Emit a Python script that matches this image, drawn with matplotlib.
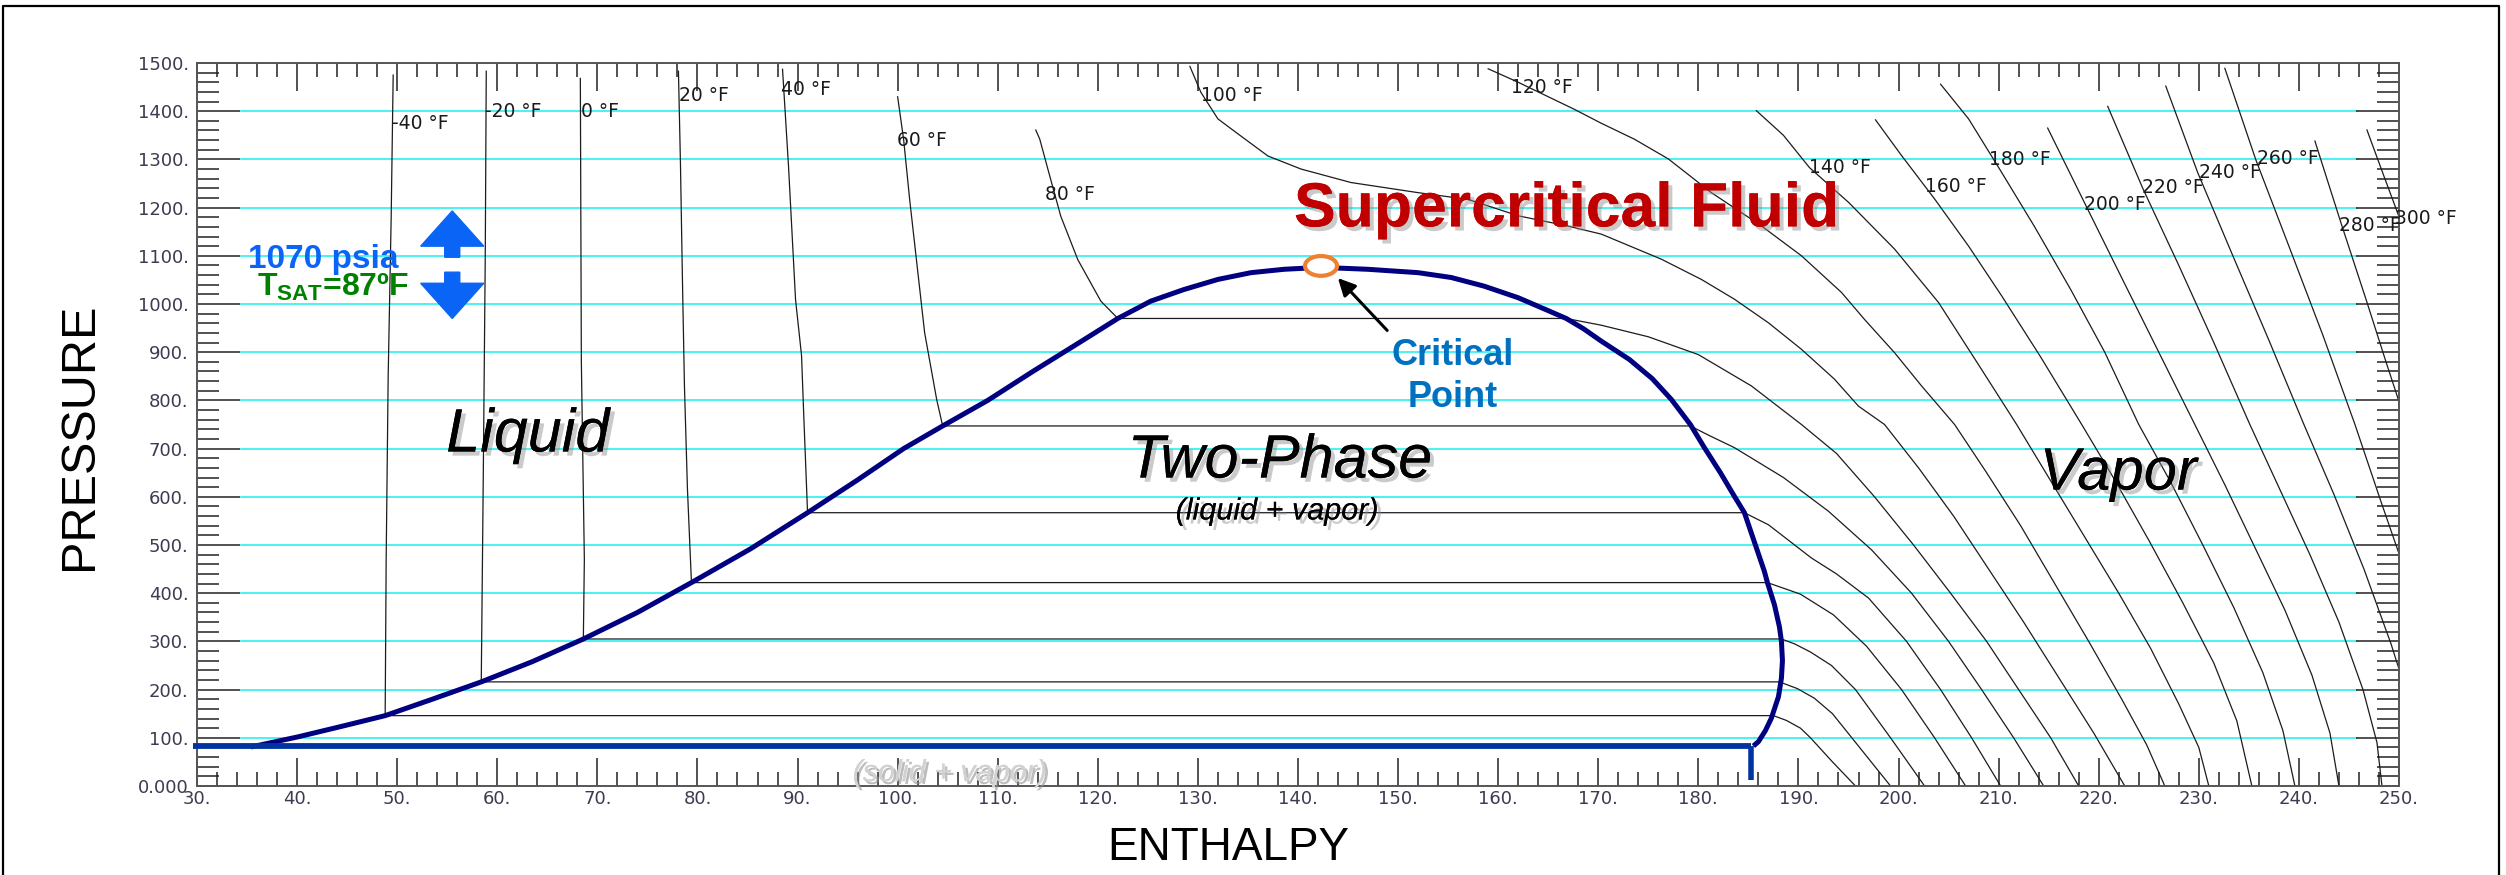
import matplotlib
matplotlib.use("Agg")
import matplotlib.pyplot as plt
import matplotlib.patheffects as pe
from matplotlib.patches import Ellipse, Polygon
from matplotlib.ticker import MultipleLocator, FuncFormatter

plt.rcParams["font.family"] = ["Liberation Sans", "DejaVu Sans"]
plt.rcParams["mathtext.fontset"] = "custom"
plt.rcParams["mathtext.rm"] = "Liberation Sans"
plt.rcParams["mathtext.bf"] = "Liberation Sans:bold"

# saturation dome, (enthalpy Btu/lb, pressure psia)
DOME = [(35.4, 81), (40.1, 102), (44.5, 124), (48.8, 146), (53.5, 180), (58.4, 216),
        (63.5, 258), (68.6, 305), (74.0, 360), (79.4, 422), (85.3, 492), (91.0, 567),
        (96.0, 635), (100.6, 700), (104.5, 747), (109.0, 800), (113.5, 860), (118.0, 918),
        (122.0, 970), (125.3, 1006), (128.6, 1030), (132.0, 1051), (135.3, 1065),
        (138.6, 1072), (142.3, 1076), (147.0, 1072), (152.0, 1065), (155.3, 1055),
        (158.6, 1037), (162.0, 1013), (164.8, 988), (166.8, 970), (168.5, 949),
        (170.3, 923), (173.1, 885), (175.4, 845), (177.3, 802), (179.2, 750), (180.6, 702),
        (182.2, 650), (183.6, 601), (184.6, 567), (185.7, 500), (186.6, 445), (186.9, 422),
        (187.6, 376), (188.1, 330), (188.3, 300), (188.4, 260), (188.3, 224), (188.0, 185),
        (187.6, 160), (187.3, 141), (186.7, 115), (186.0, 92), (185.5, 83)]

TRIPLE_P = 83
TRIPLE_H = [29.6, 185.3]
TRIPLE_DROP_P = 12.5
CRIT_H, CRIT_P = 142.3, 1079

# isotherms (h, P); subcritical ones run liquid -> tie line -> vapor
ISO_M40 = [(49.6, 1475), (49.4, 1180), (49.1, 850), (48.9, 470), (48.8, 146), (187.5, 146),
           (188.8, 136), (190.2, 120), (191.2, 100), (193.4, 50), (195.7, 0)]
ISO_M20 = [(58.9, 1483), (58.8, 1100), (58.6, 640), (58.4, 216), (188.1, 216), (189.9, 202),
           (191.6, 182), (193.4, 150), (196.3, 75), (199.2, 0)]
ISO_0 = [(68.3, 1468), (68.4, 880), (68.7, 470), (68.6, 305), (188.3, 305), (189.6, 295),
         (191.2, 278), (193.3, 250), (195.7, 200), (199.2, 100), (202.6, 0)]
ISO_20 = [(78.1, 1483), (78.3, 1293), (78.5, 1050), (78.7, 830), (79.0, 616), (79.4, 422),
          (186.9, 422), (190.2, 398), (193.5, 355), (196.8, 290), (200.3, 200), (203.6, 100),
          (206.7, 0)]
ISO_40 = [(88.5, 1487), (89.1, 1285), (89.8, 1009), (90.4, 893), (90.6, 780), (91.0, 567),
          (184.6, 567), (187.0, 542), (191.3, 473), (193.8, 440), (197.0, 390), (200.8, 300),
          (204.2, 200), (207.3, 100), (210.2, 0)]
ISO_60 = [(100.0, 1430), (100.6, 1341), (101.2, 1217), (102.7, 940), (103.9, 802), (104.5, 747),
          (179.2, 747), (181.0, 728), (183.6, 702), (188.5, 640), (193.0, 570), (197.3, 490),
          (201.3, 400), (205.0, 300), (208.3, 200), (211.5, 100), (214.5, 0)]
ISO_80 = [(113.8, 1361), (114.2, 1342), (115.1, 1273), (116.3, 1182), (118.0, 1092), (120.3, 1006),
          (122.0, 970), (166.8, 970), (170.3, 956), (175.0, 932), (180.0, 895), (185.3, 830),
          (190.3, 750), (193.8, 690), (197.6, 600), (201.5, 500), (205.2, 400), (208.8, 300),
          (212.0, 200), (215.2, 100), (218.0, 0)]
ISO_100 = [(129.2, 1493), (130.3, 1439), (132.0, 1384), (134.0, 1353), (137.0, 1307), (140.3, 1280),
           (145.3, 1252), (152.0, 1231), (157.0, 1217), (162.0, 1183), (166.9, 1162), (170.3, 1145),
           (176.3, 1093), (180.3, 1051), (183.6, 1010), (187.0, 961), (190.3, 906), (193.6, 844),
           (196.0, 788), (198.6, 750), (202.0, 660), (205.5, 560), (209.0, 450), (212.5, 340),
           (216.0, 225), (219.5, 110), (222.6, 0)]
ISO_120 = [(159.0, 1488), (162.0, 1460), (167.6, 1404), (170.3, 1375), (173.6, 1342), (177.0, 1301),
           (181.3, 1231), (186.3, 1162), (190.3, 1100), (194.3, 1024), (196.6, 968), (199.6, 899),
           (202.3, 830), (205.6, 750), (208.8, 650), (212.2, 540), (215.6, 420), (219.0, 300),
           (222.3, 180), (224.8, 85), (226.6, 0)]
ISO_140 = [(185.8, 1401), (188.5, 1350), (191.1, 1283), (195.0, 1211), (199.6, 1114), (204.0, 1003),
           (208.3, 864), (211.8, 750), (215.0, 640), (218.5, 520), (222.0, 400), (225.2, 285),
           (228.0, 170), (230.0, 80), (231.0, 0)]
ISO_160 = [(197.7, 1382), (200.3, 1308), (203.6, 1218), (207.0, 1120), (210.3, 1017), (214.2, 890),
           (218.3, 750), (221.6, 635), (225.0, 510), (228.4, 380), (231.5, 255), (233.8, 135),
           (235.3, 0)]
ISO_180 = [(204.2, 1456), (207.0, 1384), (210.3, 1273), (213.6, 1160), (217.2, 1030), (220.6, 900),
           (224.0, 750), (227.2, 630), (230.4, 500), (233.5, 370), (236.4, 235), (238.4, 115),
           (239.6, 0)]
ISO_200 = [(214.9, 1365), (218.7, 1205), (222.4, 1050), (226.0, 900), (229.6, 750), (232.6, 625),
           (235.6, 495), (238.6, 365), (241.3, 230), (243.1, 110), (244.0, 0)]
ISO_220 = [(220.9, 1410), (224.4, 1240), (228.0, 1080), (231.5, 920), (235.1, 750), (238.1, 615),
           (241.1, 480), (244.0, 340), (246.4, 200), (247.8, 90), (248.3, 0)]
ISO_240 = [(226.7, 1452), (229.9, 1272), (233.4, 1100), (237.0, 925), (240.5, 750), (243.5, 605),
           (246.5, 450), (249.2, 295), (250.5, 210)]
ISO_260 = [(232.6, 1489), (235.7, 1299), (239.0, 1120), (242.4, 935), (245.6, 750), (248.2, 590),
           (250.2, 470)]
ISO_280 = [(241.6, 1338), (244.3, 1162), (246.7, 1010), (248.7, 880), (250.2, 785)]
ISO_300 = [(246.8, 1361), (248.5, 1265), (250.2, 1170)]

ISO_TEMPS = [-40, -20, 0, 20, 40, 60, 80, 100, 120, 140, 160, 180, 200, 220, 240, 260, 280, 300]
ISO_LINES = [ISO_M40, ISO_M20, ISO_0, ISO_20, ISO_40, ISO_60, ISO_80, ISO_100, ISO_120,
             ISO_140, ISO_160, ISO_180, ISO_200, ISO_220, ISO_240, ISO_260, ISO_280, ISO_300]
LABEL_H = [49.5, 58.8, 68.4, 78.2, 88.3, 99.9, 114.7, 130.3, 161.3, 191.1, 202.6, 209.0,
           218.5, 224.3, 230.0, 235.8, 244.0, 249.6]
LABEL_P = [1375, 1400, 1400, 1432, 1445, 1339, 1228, 1432, 1450, 1283, 1243, 1299,
           1206, 1242, 1272, 1301, 1162, 1177]

GRID_P = list(range(100, 1500, 100))

# figure
W, H = 2506, 875
fig = plt.figure(figsize=(W / 100, H / 100), dpi=100)
ax = fig.add_axes([197 / W, 1 - 786 / H, 2202 / W, 723 / H])
ax.set_xlim(30, 250)
ax.set_ylim(0, 1500)

for p in GRID_P:
    ax.axhline(p, xmin=0.02, xmax=0.981, color="#2cf0f0", lw=1.2, zorder=1)

for pts in ISO_LINES:
    hh, pp = zip(*pts)
    ax.plot(hh, pp, color="#1c1c1c", lw=0.9, zorder=2)

for t, lh, lp in zip(ISO_TEMPS, LABEL_H, LABEL_P):
    ax.text(lh, lp, f"{t} °F", fontsize=13.5, family="DejaVu Sans", color="#1a1a1a",
            ha="left", va="center", zorder=4, clip_on=False)

dh, dp = zip(*DOME)
ax.plot(dh, dp, color="#000080", lw=3.6, zorder=3, solid_capstyle="butt",
        solid_joinstyle="round")

ax.plot(TRIPLE_H, [TRIPLE_P, TRIPLE_P], color="#0035a0", lw=4.2, zorder=3.5,
        clip_on=False, solid_capstyle="butt")
ax.plot([TRIPLE_H[1], TRIPLE_H[1]], [TRIPLE_P, TRIPLE_DROP_P], color="#0035a0", lw=4.0,
        zorder=3.5, solid_capstyle="butt")

# critical point marker + arrow
ax.add_patch(Ellipse((CRIT_H, CRIT_P), 3.2, 41, facecolor="white", edgecolor="#ee8030",
                     lw=3, zorder=6))
ax.annotate("", xy=(143.8, 1058), xytext=(149.1, 941),
            arrowprops=dict(arrowstyle="-|>", color="black", lw=2.2, mutation_scale=26),
            zorder=6)
ax.text(155.4, 873, "Critical", color="#0070c0", fontsize=26, fontweight="bold",
        ha="center", va="baseline", zorder=6)
ax.text(155.5, 787, "Point", color="#0070c0", fontsize=26, fontweight="bold",
        ha="center", va="baseline", zorder=6)

shadow = [pe.withSimplePatchShadow(offset=(3, -3), shadow_rgbFace="#8a8a8a", alpha=0.45),
          pe.Normal()]
ax.text(139.6, 1161, "Supercritical Fluid", color="#c00000", fontsize=45, fontweight="bold",
        ha="left", va="baseline", zorder=6, path_effects=shadow)
ax.text(54.9, 694, "Liquid", fontsize=44, style="italic", ha="left", va="baseline",
        zorder=6, path_effects=shadow)
ax.text(138.2, 640, "Two-Phase", fontsize=44, style="italic", ha="center", va="baseline",
        zorder=6, path_effects=shadow)
ax.text(137.9, 553, "(liquid + vapor)", fontsize=22, style="italic", ha="center",
        va="baseline", zorder=6, path_effects=shadow)
ax.text(214.1, 615, "Vapor", fontsize=43, style="italic", ha="left", va="baseline",
        zorder=6, path_effects=shadow)
ax.text(105.2, 10, "(solid + vapor)", fontsize=22, style="italic", color="#d2d2d2",
        ha="center", va="baseline", zorder=6, clip_on=False,
        path_effects=[pe.withSimplePatchShadow(offset=(2, -2), shadow_rgbFace="#909090",
                                               alpha=0.6), pe.Normal()])

# 1070 psia note and the blue up/down arrows
ax.text(35.1, 1074, "1070 psia", color="#0a64f5", fontsize=24, fontweight="bold",
        ha="left", va="baseline", zorder=6)
ax.text(36.0, 1016, r"T$\mathbf{_{SAT}}$=87ºF", color="#008000", fontsize=23,
        fontweight="bold", ha="left", va="baseline", zorder=6)
ARROW_H = 55.5
HEAD_W, SHAFT_W = 3.15, 0.75
UP = [1193, 1120, 1097]
DOWN = [970, 1043, 1066]
for apex, base, end in (UP, DOWN):
    poly = [(ARROW_H, apex), (ARROW_H + HEAD_W, base), (ARROW_H + SHAFT_W, base),
            (ARROW_H + SHAFT_W, end), (ARROW_H - SHAFT_W, end), (ARROW_H - SHAFT_W, base),
            (ARROW_H - HEAD_W, base)]
    ax.add_patch(Polygon(poly, closed=True, color="#0a64f5", zorder=6))

# axes styling
ax.xaxis.set_major_locator(MultipleLocator(10))
ax.xaxis.set_minor_locator(MultipleLocator(2))
ax.yaxis.set_major_locator(MultipleLocator(100))
ax.yaxis.set_minor_locator(MultipleLocator(20))
ax.xaxis.set_major_formatter(FuncFormatter(lambda v, _: f"{v:.0f}."))
ax.yaxis.set_major_formatter(FuncFormatter(lambda v, _: "0.000" if v == 0 else f"{v:.0f}."))
ax.tick_params(axis="x", which="major", direction="in", top=True, length=20, width=1.1,
               pad=3, labelsize=13, labelcolor="#3b3b52", color="#222")
ax.tick_params(axis="x", which="minor", direction="in", top=True, length=10, width=1.1,
               color="#222")
ax.tick_params(axis="y", which="major", direction="in", right=True, length=31, width=1.1,
               pad=6, labelsize=13, labelcolor="#3b3b52", color="#222")
ax.tick_params(axis="y", which="minor", direction="in", right=True, length=15.5, width=1.1,
               color="#222")
for lab in ax.get_xticklabels() + ax.get_yticklabels():
    lab.set_family("DejaVu Sans")
for s in ax.spines.values():
    s.set_color("#555555")
    s.set_linewidth(1.4)

fig.text(92 / W, 1 - 436 / H, "PRESSURE", fontsize=35, rotation=90, rotation_mode="anchor",
         ha="center", va="baseline")
fig.text(1228 / W, 1 - 860 / H, "ENTHALPY", fontsize=33, ha="center", va="baseline")

# outer frame
fig.add_artist(plt.Line2D([0.001, 0.001, 0.9972, 0.9972], [0.0, 0.9931, 0.9931, 0.0],
                          transform=fig.transFigure, color="black", lw=1.6))

fig.savefig("out.png", dpi=100)
